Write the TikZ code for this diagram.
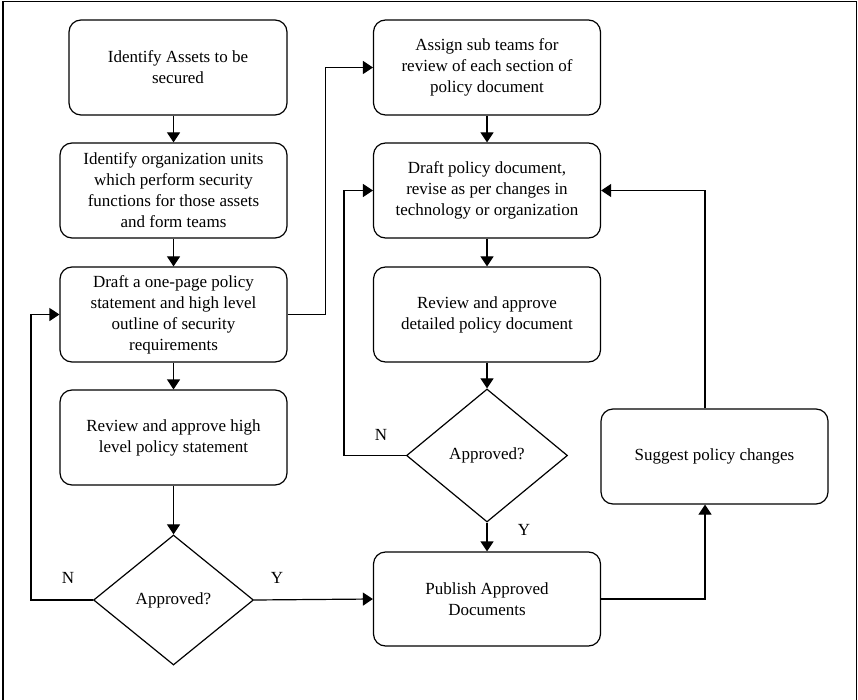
\documentclass[tikz,border=0pt]{standalone}
\usepackage{fontspec}
\setmainfont{Liberation Serif}
\usepackage{tikz}
\usetikzlibrary{shapes, shapes.geometric, arrows.meta}
\tikzstyle{block}=[draw, rectangle, rounded corners=12pt, line width=1.2pt, minimum width=227pt, minimum height=95pt, align=center, inner sep=2pt]
\tikzstyle{decision}=[draw, diamond, line width=1.2pt, minimum width=160pt, minimum height=130pt, inner sep=0pt]
\tikzstyle{line}=[draw, line width=1.2pt, -{Triangle[length=10pt,width=13pt]}]
\tikzstyle{lbl}=[inner sep=0pt]

\begin{document}
\begin{tikzpicture}[x=1pt, y=-1pt, font=\fontsize{17}{21}\selectfont]
		\useasboundingbox (0,0) rectangle (858,700);
		\draw[line width=1.2pt] (3,700) -- (3,1.5) -- (856.5,1.5) -- (856.5,700);
		% left column
		\node[block, minimum width=218pt] (A) at (178,67.5) {Identify Assets to be\\secured};
		\node[block] (B) at (173.5,190.5) {Identify organization units\\which perform security\\functions for those assets\\and form teams};
		\node[block] (C) at (173.5,314.5) {Draft a one-page policy\\statement and high level\\outline of security\\requirements};
		\node[block] (D) at (173.5,437.5) {Review and approve high\\level policy statement};
		\node[decision] (Q1) at (173.5,600) {Approved?};
		% right column
		\node[block] (F) at (487,67.5) {Assign sub teams for\\review of each section of\\policy document};
		\node[block] (G) at (487,190.5) {Draft policy document,\\revise as per changes in\\technology or organization};
		\node[block] (H) at (487,314.5) {Review and approve\\detailed policy document};
		\node[decision, minimum width=161pt, minimum height=133pt] (Q2) at (487,455.5) {Approved?};
		\node[block, minimum height=94pt] (E) at (487,599) {Publish Approved\\Documents};
		\node[block] (S) at (714.5,456.5) {Suggest policy changes};
		% labels
		\node[lbl] (n1) at (68,578) {N};
		\node[lbl] (y1) at (277,578) {Y};
		\node[lbl] (n2) at (381,435) {N};
		\node[lbl] (y2) at (524,530) {Y};
		% connectors
		\draw[line] (A.south -| B.north) -- (B.north);
		\draw[line] (B) -- (C);
		\draw[line] (C) -- (D);
		\draw[line] (D) -- (Q1);
		\draw[line] (Q1.west) -- ++(-62,0) |- (C.west);
		\draw[line] (Q1.east) -- (E.west);
		\draw[line] (C.east) -- ++(38,0) |- (F.west);
		\draw[line] (F) -- (G);
		\draw[line] (G) -- (H);
		\draw[line] (H) -- (Q2);
		\draw[line] (Q2.west) -- ++(-62,0) |- (G.west);
		\draw[line] (Q2) -- (E);
		\draw[line] (E.east) -| ([xshift=-9.5pt]S.south);
		\draw[line] ([xshift=-9.5pt]S.north) |- (G.east);
	\end{tikzpicture}
\end{document}
